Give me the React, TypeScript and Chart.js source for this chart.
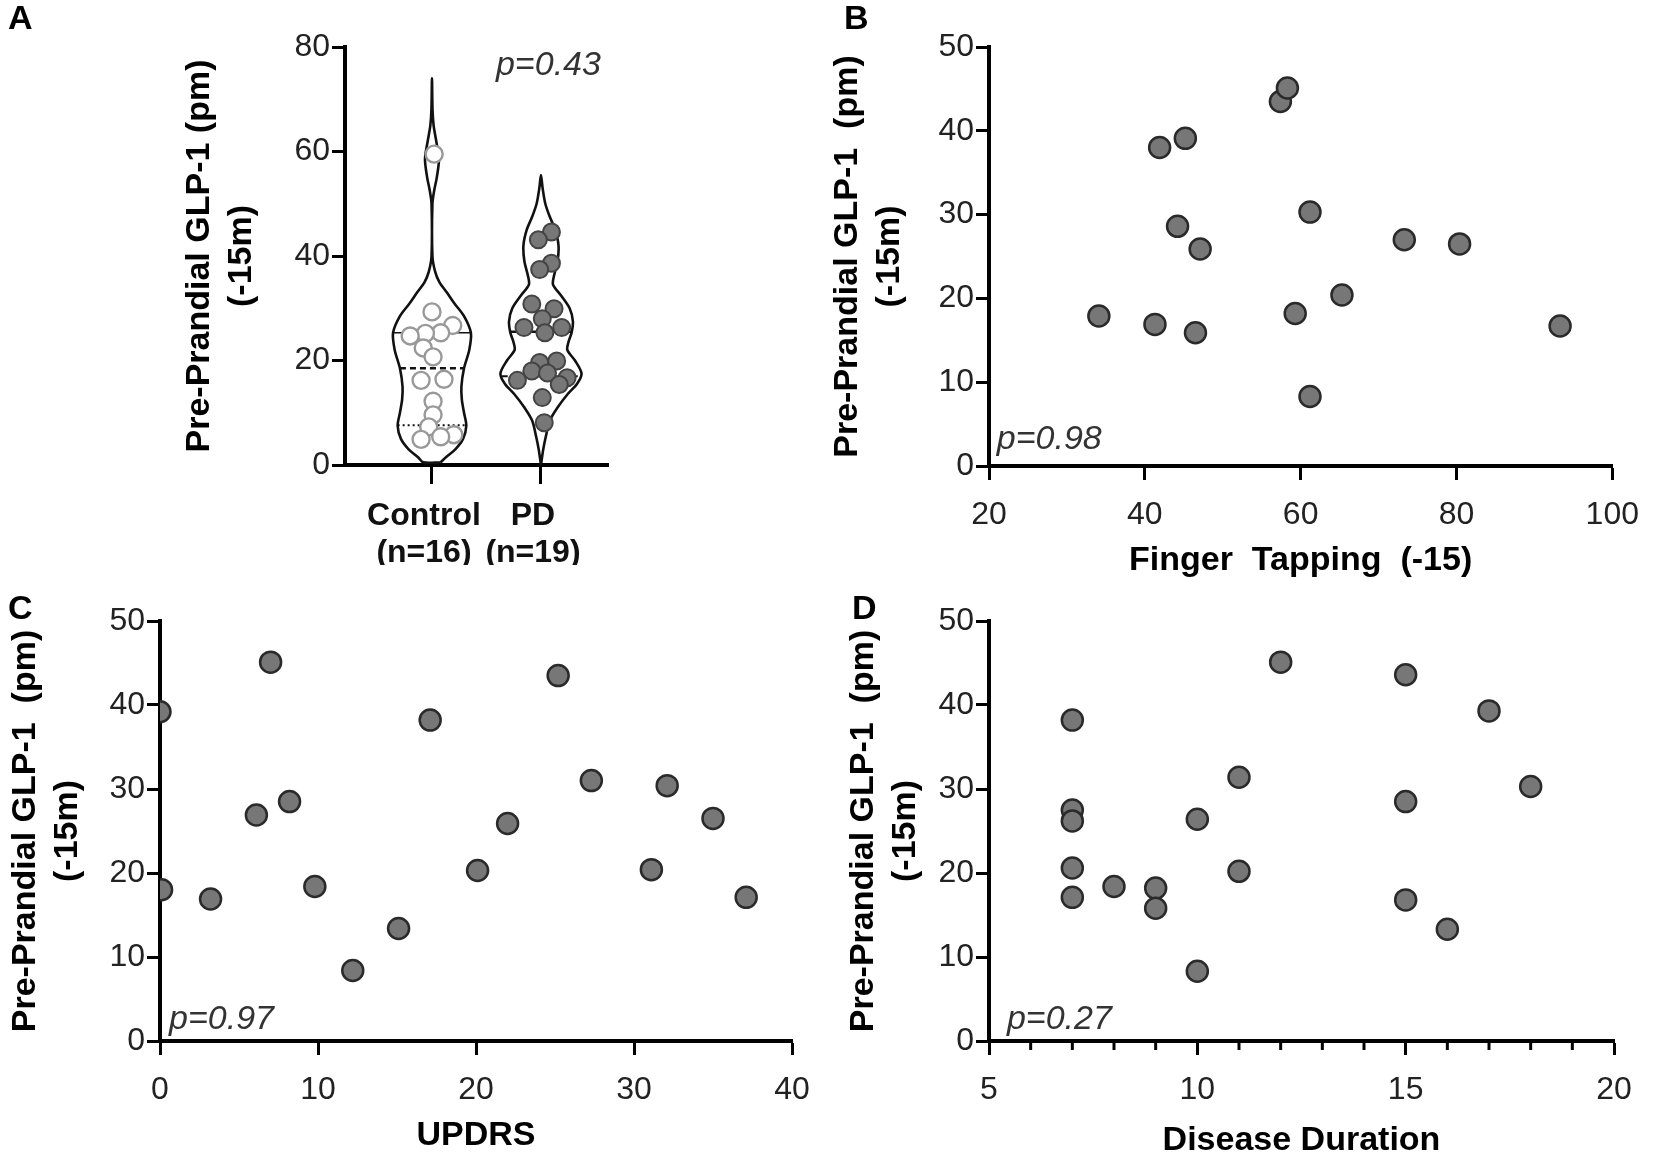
import React, { useEffect, useRef } from 'react';
import { Chart, registerables } from 'chart.js';

Chart.register(...registerables);

const FONT = "'Liberation Sans', Arial, Helvetica, sans-serif";

// ---------------- data ----------------
// Panel A: group positions, labels, points, violin outlines
const groupPositions = [1, 2];
const groupLabels = [['Control', '(n=16)'], ['PD', '(n=19)']];

const controlValues = [59.5, 29.3, 26.7, 25.3, 25.2, 24.7, 22.4, 20.7, 16.4, 16.2, 12.2, 9.6, 7.3, 5.8, 5.4, 4.9];
const controlJitter = [0.02, 0.0, 0.19, 0.08, -0.06, -0.2, -0.08, 0.01, 0.11, -0.1, 0.01, 0.01, -0.03, 0.2, 0.08, -0.1];

const pdValues = [44.6, 43.1, 38.6, 37.4, 30.8, 29.9, 28.0, 26.3, 26.3, 25.3, 19.9, 19.6, 18.0, 17.6, 16.7, 16.2, 15.4, 12.9, 8.1];
const pdJitter = [0.096, -0.024, 0.096, -0.012, -0.084, 0.12, 0.012, -0.156, 0.19, 0.036, 0.144, -0.012, -0.084, 0.06, 0.24, -0.216, 0.168, 0.012, 0.03];

// violin outline: GLP-1 level and half width (in group units)
const controlViolinLevels = [0.5, 1.5, 3, 5, 7.5, 10, 12.5, 15, 18.5, 22, 25.3, 28.5, 31, 33, 35, 37, 40, 50, 52.5, 55, 58.5, 62, 65, 68, 74];
const controlViolinHalf = [0.079, 0.128, 0.214, 0.285, 0.315, 0.294, 0.274, 0.27, 0.294, 0.342, 0.357, 0.294, 0.203, 0.137, 0.068, 0.029, 0.004, 0.004, 0.02, 0.044, 0.064, 0.039, 0.015, 0.005, 0];
const pdViolinLevels = [0, 3, 5.5, 8.5, 11, 13.5, 15.5, 17.5, 20, 22, 23.5, 25.4, 27.5, 30, 32.5, 34.5, 36, 39, 42, 45, 47.5, 50, 53, 55.5];
const pdViolinHalf = [0, 0.021, 0.045, 0.081, 0.152, 0.242, 0.33, 0.372, 0.312, 0.242, 0.252, 0.282, 0.293, 0.263, 0.182, 0.111, 0.117, 0.152, 0.161, 0.131, 0.081, 0.04, 0.015, 0];

// summary lines inside violins: [level, half width]
const controlMedian = [18.5, 0.294];
const controlLowerQ = [7.6, 0.315];
const controlUpperQ = [25.3, 0.357];
const pdUpperLine = [25.5, 0.282];
const pdMedian = [17.0, 0.36];

// Panel B
const fingerTapping = [34.1, 41.3, 41.9, 45.2, 44.2, 47.1, 46.5, 57.4, 58.3, 61.2, 59.3, 61.2, 65.3, 73.3, 80.4, 93.3];
const glpFinger = [17.9, 16.9, 38.0, 39.1, 28.6, 25.9, 15.9, 43.5, 45.1, 30.3, 18.2, 8.3, 20.4, 27.0, 26.5, 16.7];

// Panel C
const updrs = [0, 0.1, 3.2, 7.0, 6.1, 8.2, 9.8, 12.2, 15.1, 17.1, 20.1, 22.0, 25.2, 27.3, 31.1, 32.1, 35.0, 37.1];
const glpUpdrs = [39.2, 18.0, 16.9, 45.1, 26.9, 28.5, 18.4, 8.4, 13.4, 38.2, 20.3, 25.9, 43.5, 31.0, 20.4, 30.4, 26.5, 17.1];

// Panel D
const duration = [7, 7, 7, 7, 7, 8, 9, 9, 10, 10, 11, 11, 12, 15, 15, 15, 16, 17, 18];
const glpDuration = [38.2, 27.5, 26.2, 20.6, 17.1, 18.4, 18.2, 15.8, 26.4, 8.3, 31.4, 20.2, 45.1, 43.6, 28.5, 16.8, 13.3, 39.3, 30.3];
const durationMinorTicks = [6, 7, 8, 9, 11, 12, 13, 14, 16, 17, 18, 19];

const yTitleA = ['Pre-Prandial GLP-1 (pm)', '(-15m)'];
const yTitle = ['Pre-Prandial GLP-1  (pm)', '(-15m)'];
const pValues = ['p=0.43', 'p=0.98', 'p=0.97', 'p=0.27'];

// ---------------- styling helpers ----------------
const tickFont = { family: FONT, size: 32 };
const yTitleFont = { family: FONT, size: 34, weight: 'bold' as const, lineHeight: 1.235 };
const xTitleFont = { family: FONT, size: 34, weight: 'bold' as const, lineHeight: 1.2 };

function yAxis(max: number, step: number, width: number, title: string[]) {
  return {
    type: 'linear',
    position: 'left',
    min: 0,
    max,
    ticks: { stepSize: step, font: tickFont, color: '#222', padding: 2 },
    grid: { drawOnChartArea: false, drawTicks: true, tickLength: 13, tickWidth: 3, tickColor: '#000' },
    border: { display: true, color: '#000', width: 4 },
    title: { display: true, text: title, font: yTitleFont, color: '#000', padding: 0 },
    afterFit: (s: any) => {
      s.width = width;
    },
  };
}

function xAxis(min: number, max: number, step: number, height: number, title: string) {
  return {
    type: 'linear',
    position: 'bottom',
    min,
    max,
    ticks: { stepSize: step, font: tickFont, color: '#222', padding: 16, maxRotation: 0, autoSkip: false },
    grid: { drawOnChartArea: false, drawTicks: true, tickLength: 14, tickWidth: 3, tickColor: '#000' },
    border: { display: true, color: '#000', width: 4 },
    title: { display: true, text: title, font: xTitleFont, color: '#000', padding: 0 },
    afterFit: (s: any) => {
      s.height = height;
    },
  };
}

function annotations(letter: string, lx: number, ly: number, pText: string, px: number, py: number, minorTicks?: number[]) {
  return {
    id: 'annotations_' + letter,
    afterDraw(chart: any) {
      const ctx = chart.ctx;
      ctx.save();
      ctx.fillStyle = '#000';
      ctx.font = `bold 34px ${FONT}`;
      ctx.textAlign = 'left';
      ctx.textBaseline = 'middle';
      ctx.fillText(letter, lx, ly);
      const xs = chart.scales.x;
      const ys = chart.scales.y;
      ctx.font = `italic 34px ${FONT}`;
      ctx.fillStyle = '#333';
      ctx.fillText(pText, xs.getPixelForValue(px), ys.getPixelForValue(py));
      if (minorTicks) {
        ctx.strokeStyle = '#000';
        ctx.lineWidth = 3;
        const b = chart.chartArea.bottom;
        minorTicks.forEach((v) => {
          const x = xs.getPixelForValue(v);
          ctx.beginPath();
          ctx.moveTo(x, b);
          ctx.lineTo(x, b + 9);
          ctx.stroke();
        });
      }
      ctx.restore();
    },
  };
}

function scatterData(xs: number[], ys: number[]) {
  return xs.map((x, i) => ({ x, y: ys[i] }));
}

const scatterStyle = {
  pointRadius: 10.5,
  pointHoverRadius: 10.5,
  backgroundColor: '#777777',
  borderColor: '#2a2a2a',
  borderWidth: 2.5,
};

function violinOutline(center: number, levels: number[], half: number[]) {
  const right = levels.map((l, i) => ({ x: center + half[i], y: l }));
  const left: { x: number; y: number }[] = [];
  for (let i = levels.length - 2; i >= 0; i--) left.push({ x: center - half[i], y: levels[i] });
  const pts = [...right, ...left];
  if (half[0] > 0) pts.push({ x: center + half[0], y: levels[0] });
  return pts;
}

function hLine(center: number, spec: number[]) {
  return [
    { x: center - spec[1], y: spec[0] },
    { x: center + spec[1], y: spec[0] },
  ];
}

const baseOptions = {
  responsive: false,
  animation: false,
  devicePixelRatio: 1,
  plugins: { legend: { display: false }, tooltip: { enabled: false } },
  events: [],
};

// ---------------- chart configs ----------------
function configA() {
  const lineBase = { type: 'line', pointRadius: 0, fill: false, borderColor: '#111', tension: 0 };
  return {
    type: 'scatter',
    data: {
      datasets: [
        { ...lineBase, data: violinOutline(groupPositions[0], controlViolinLevels, controlViolinHalf), borderWidth: 2.6, tension: 0.3, order: 5 },
        { ...lineBase, data: violinOutline(groupPositions[1], pdViolinLevels, pdViolinHalf), borderWidth: 2.6, tension: 0.3, order: 5 },
        { ...lineBase, data: hLine(groupPositions[0], controlMedian), borderWidth: 2.5, borderDash: [6, 4], order: 4 },
        { ...lineBase, data: hLine(groupPositions[0], controlLowerQ), borderWidth: 2, borderDash: [2, 3], order: 4 },
        { ...lineBase, data: hLine(groupPositions[0], controlUpperQ), borderWidth: 1.5, order: 4 },
        { ...lineBase, data: hLine(groupPositions[1], pdUpperLine), borderWidth: 2.5, order: 4 },
        { ...lineBase, data: hLine(groupPositions[1], pdMedian), borderWidth: 2, borderDash: [6, 4], order: 4 },
        {
          data: controlValues.map((v, i) => ({ x: groupPositions[0] + controlJitter[i], y: v })),
          pointRadius: 8.5,
          backgroundColor: '#ffffff',
          borderColor: '#999999',
          borderWidth: 2.4,
          order: 1,
        },
        {
          data: pdValues.map((v, i) => ({ x: groupPositions[1] + pdJitter[i], y: v })),
          pointRadius: 8.5,
          backgroundColor: '#777777',
          borderColor: '#444444',
          borderWidth: 2,
          order: 1,
        },
      ],
    },
    options: {
      ...baseOptions,
      layout: { padding: { left: 179, top: 47, right: 42, bottom: 15 } },
      scales: {
        x: {
          type: 'linear',
          position: 'bottom',
          min: 0.202,
          max: 2.615,
          afterBuildTicks: (s: any) => {
            s.ticks = groupPositions.map((v) => ({ value: v }));
          },
          ticks: {
            font: { family: FONT, size: 32, weight: 'bold', lineHeight: 1.15 },
            color: '#111',
            padding: 14,
            labelOffset: -8,
            maxRotation: 0,
            autoSkip: false,
            callback: (v: number) => groupLabels[groupPositions.indexOf(v)] ?? '',
          },
          grid: { drawOnChartArea: false, drawTicks: true, tickLength: 19, tickWidth: 3, tickColor: '#000' },
          border: { display: true, color: '#000', width: 4 },
          afterFit: (s: any) => {
            s.height = 100;
          },
        },
        y: yAxis(80, 20, 166, yTitleA),
      },
    },
    plugins: [annotations('A', 8, 20, pValues[0], 1.587, 76.5)],
  };
}

function configB() {
  return {
    type: 'scatter',
    data: { datasets: [{ data: scatterData(fingerTapping, glpFinger), ...scatterStyle }] },
    options: {
      ...baseOptions,
      layout: { padding: { left: 47, top: 47, right: 41, bottom: 3.6 } },
      scales: {
        x: xAxis(20, 100, 20, 115.4, 'Finger  Tapping  (-15)'),
        y: yAxis(50, 10, 162, yTitle),
      },
    },
    plugins: [annotations('B', 64, 20, pValues[1], 21, 3.1)],
  };
}

function configC() {
  return {
    type: 'scatter',
    data: { datasets: [{ data: scatterData(updrs, glpUpdrs), ...scatterStyle }] },
    options: {
      ...baseOptions,
      layout: { padding: { left: 5, top: 41, right: 38, bottom: 8.6 } },
      scales: {
        x: xAxis(0, 40, 10, 115.4, 'UPDRS'),
        y: yAxis(50, 10, 155, yTitle),
      },
    },
    plugins: [annotations('C', 8, 30, pValues[2], 0.57, 2.5)],
  };
}

function configD() {
  return {
    type: 'scatter',
    data: { datasets: [{ data: scatterData(duration, glpDuration), ...scatterStyle }] },
    options: {
      ...baseOptions,
      layout: { padding: { left: 13, top: 41, right: 41, bottom: 3.6 } },
      scales: {
        x: xAxis(5, 20, 5, 120.4, 'Disease Duration'),
        y: yAxis(50, 10, 146, yTitle),
      },
    },
    plugins: [annotations('D', 22, 30, pValues[3], 5.43, 2.5, durationMinorTicks)],
  };
}

type Box = { left: number; top: number; width: number; height: number };

function ChartCanvas({ box, make }: { box: Box; make: () => any }) {
  const ref = useRef<HTMLCanvasElement>(null);
  useEffect(() => {
    if (!ref.current) return;
    const chart = new Chart(ref.current, make() as any);
    return () => chart.destroy();
  }, []);
  return (
    <canvas
      ref={ref}
      width={box.width}
      height={box.height}
      style={{ position: 'absolute', left: box.left, top: box.top, width: box.width, height: box.height }}
    />
  );
}

export default function App() {
  useEffect(() => {
    document.body.style.margin = '0';
    document.body.style.background = '#ffffff';
  }, []);
  return (
    <div style={{ position: 'relative', width: 1655, height: 1165, background: '#fff', overflow: 'hidden' }}>
      <ChartCanvas box={{ left: 0, top: 0, width: 650, height: 580 }} make={configA} />
      <ChartCanvas box={{ left: 780, top: 0, width: 875, height: 585 }} make={configB} />
      <ChartCanvas box={{ left: 0, top: 580, width: 830, height: 585 }} make={configC} />
      <ChartCanvas box={{ left: 830, top: 580, width: 825, height: 585 }} make={configD} />
    </div>
  );
}
